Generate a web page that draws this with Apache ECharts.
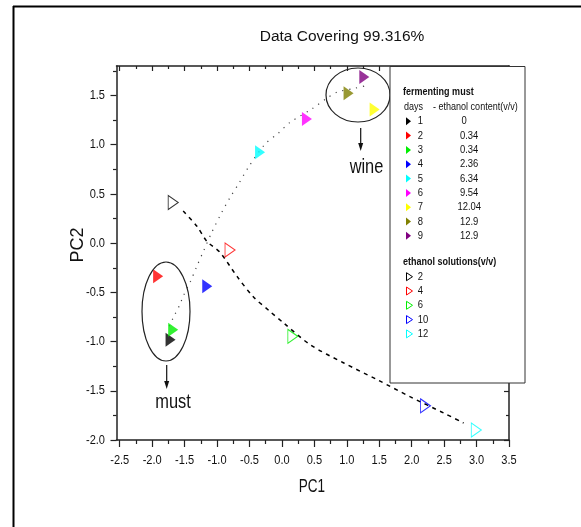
<!DOCTYPE html>
<html>
<head>
<meta charset="utf-8">
<script src="https://cdn.jsdelivr.net/npm/echarts@6/dist/echarts.min.js"></script>
<style>html,body{margin:0;padding:0;background:#fff}#c{width:581px;height:527px}</style>
</head>
<body>
<div id="c"></div>
<script>
// ---- data ----
const days = ['1','2','3','4','5','6','7','8','9'];
const ethanolContent = ['0','0.34','0.34','2.36','6.34','9.54','12.04','12.9','12.9'];
const mustColors = ['#000000','#ff0000','#00ee00','#0000ff','#00ffff','#ff00ff','#ffff00','#808000','#800080'];
const mustPC1 = [-1.717,-1.908,-1.676,-1.151,-0.337,0.385,1.429,1.027,1.270];
const mustPC2 = [-0.981,-0.335,-0.879,-0.437,0.923,1.262,1.357,1.524,1.687];

const solutionLabels = ['2','4','6','10','12'];
const solutionColors = ['#000000','#ff0000','#00ee00','#0000ff','#00ffff'];
const solPC1 = [-1.676,-0.800,0.168,2.213,2.996];
const solPC2 = [0.413,-0.070,-0.947,-1.653,-1.898];

// trend curves
const mustTrendPC1 = [-1.738,-1.676,-1.573,-1.522,-1.408,-1.315,-1.197,-1.083,-0.929,-0.800,-0.661,-0.518,-0.260,-0.054,0.127,0.462,0.694,0.848,1.131,1.301];
const mustTrendPC2 = [-0.845,-0.759,-0.624,-0.539,-0.386,-0.240,-0.063,0.107,0.311,0.464,0.610,0.770,1.007,1.119,1.228,1.364,1.473,1.534,1.575,1.601];
const solTrendPC1 = [-1.522,-1.310,-1.156,-0.955,-0.692,-0.445,-0.182,0.019,0.436,0.946,1.471,1.981,2.491,2.800];
const solTrendPC2 = [0.327,0.171,0.018,-0.094,-0.338,-0.542,-0.695,-0.807,-1.032,-1.215,-1.388,-1.562,-1.725,-1.827];

const xTickLabels = [-2.5,-2.0,-1.5,-1.0,-0.5,0.0,0.5,1.0,1.5,2.0,2.5,3.0,3.5];
const yTickLabels = [-2.0,-1.5,-1.0,-0.5,0.0,0.5,1.0,1.5];

const titleText = 'Data Covering 99.316%';
const xName = 'PC1', yName = 'PC2';

// ---- chart ----
const SANS = "'Liberation Sans',Arial,sans-serif";
const NX = 0.82; // horizontal compression of the narrow text in the reference
const xMinor = xTickLabels.slice(0,-1).map((v,i)=>(v+xTickLabels[i+1])/2);
const yMinor = yTickLabels.slice(0,-1).map((v,i)=>(v+yTickLabels[i+1])/2).concat([1.75]);
const XMIN=-2.55, XMAX=3.5, YMIN=-2.0, YMAX=1.8;
const AX='#222';

function xAx(pos, values, len, inside, line){
  return {type:'value', position:pos, min:XMIN, max:XMAX,
    axisLine:{show:line,onZero:false,lineStyle:{color:AX,width:1.5}},
    axisTick:{show:true,inside:inside,length:len,customValues:values,lineStyle:{color:AX,width:1.2}},
    axisLabel:{show:false}, splitLine:{show:false}};
}
function yAx(pos, values, len, inside, line){
  return {type:'value', position:pos, min:YMIN, max:YMAX,
    axisLine:{show:line,onZero:false,lineStyle:{color:AX,width:1.5}},
    axisTick:{show:true,inside:inside,length:len,customValues:values,lineStyle:{color:AX,width:1.2}},
    axisLabel:{show:false}, splitLine:{show:false}};
}

const tri = 'path://M0,0L10,7L0,14Z';

const option = {
  animation:false,
  backgroundColor:'#fff',
  grid:{left:116.5,right:72,top:66,bottom:87,containLabel:false},
  xAxis:[
    xAx('bottom',xTickLabels,7,false,true),
    xAx('bottom',xMinor,4,false,false),
    xAx('top',xTickLabels,5,true,true),
    xAx('top',xMinor,3,true,false)
  ],
  yAxis:[
    yAx('left',yTickLabels,6,false,true),
    yAx('left',yMinor,3.5,false,false),
    yAx('right',yTickLabels,5,true,true),
    yAx('right',yMinor,3,true,false)
  ],
  series:[
    {type:'line',name:'must trend',xAxisIndex:0,yAxisIndex:0,showSymbol:false,smooth:0.3,z:1,
     data:mustTrendPC1.map((x,i)=>[x,mustTrendPC2[i]]),
     lineStyle:{color:'#444',width:1.2,type:[1.2,5.8]}},
    {type:'line',name:'solution trend',xAxisIndex:0,yAxisIndex:0,showSymbol:false,smooth:0.3,z:1,
     data:solTrendPC1.map((x,i)=>[x,solTrendPC2[i]]),
     lineStyle:{color:'#000',width:1.5,type:[4,4.5]}},
    {type:'scatter',name:'fermenting must',xAxisIndex:0,yAxisIndex:0,symbol:tri,symbolSize:[10,14],z:3,
     data:mustPC1.map((x,i)=>({value:[x,mustPC2[i]],itemStyle:{color:mustColors[i]}}))},
    {type:'scatter',name:'ethanol solutions',xAxisIndex:0,yAxisIndex:0,symbol:tri,symbolSize:[10,14],z:3,
     data:solPC1.map((x,i)=>({value:[x,solPC2[i]],itemStyle:{color:'rgba(255,255,255,0)',borderColor:solutionColors[i],borderWidth:1}}))}
  ]
};
const chart = echarts.init(document.getElementById('c'),null,{renderer:'canvas'});
chart.setOption(option);

// ---- graphics: tick labels (placed through the axis scales), annotations, legend ----
const graphics = [];
function txt(x,y,text,font,align,sx,extra){
  return Object.assign({type:'text',x:x,y:y,scaleX:sx,style:{text:text,font:font,fill:'#111',align:align,verticalAlign:'middle'},z:50},extra||{});
}
xTickLabels.forEach(v=>{
  const px = chart.convertToPixel({xAxisIndex:0}, v);
  graphics.push(txt(px,460.5,v.toFixed(1),"13px "+SANS,'center',0.85));
});
yTickLabels.forEach(v=>{
  const py = chart.convertToPixel({yAxisIndex:0}, v);
  graphics.push(txt(105,py,v.toFixed(1),"13px "+SANS,'right',0.85));
});
// outer frame (left and top edges)
graphics.push({type:'line',shape:{x1:13.5,y1:6,x2:13.5,y2:527},style:{stroke:'#000',lineWidth:2},z:50});
graphics.push({type:'line',shape:{x1:13,y1:6.5,x2:581,y2:6.5},style:{stroke:'#000',lineWidth:2},z:50});
// title and axis names
graphics.push(txt(342,37,titleText,"15.5px "+SANS,'center',1));
graphics.push(txt(312,487,xName,"18px "+SANS,'center',0.75));
graphics.push(txt(78,245,yName,"18px "+SANS,'center',1,{rotation:Math.PI/2}));
// annotations: ellipses, arrows, labels
graphics.push({type:'ellipse',shape:{cx:358,cy:95,rx:32,ry:27},style:{fill:null,stroke:'#222',lineWidth:1.2},z:40});
graphics.push({type:'ellipse',shape:{cx:166,cy:311.5,rx:24,ry:49.5},style:{fill:null,stroke:'#222',lineWidth:1.2},z:40});
function arrow(x,y1,y2){
  graphics.push({type:'line',shape:{x1:x,y1:y1,x2:x,y2:y2-6},style:{stroke:'#111',lineWidth:1.2},z:40});
  graphics.push({type:'polygon',shape:{points:[[x-2.5,y2-8],[x+2.5,y2-8],[x,y2]]},style:{fill:'#111'},z:40});
}
arrow(360.7,128,151);
arrow(166.7,365,389);
graphics.push(txt(366.5,167,'wine',"20px "+SANS,'center',NX));
graphics.push(txt(173,402,'must',"20px "+SANS,'center',NX));

// legend box
const L = [];
L.push({type:'rect',shape:{x:390,y:66.5,width:135,height:316.5},style:{fill:'#fff',stroke:'#333',lineWidth:1}});
L.push(txt(403,92,'fermenting must',"bold 11px "+SANS,'left',NX));
L.push(txt(404,106.7,'days',"11px "+SANS,'left',NX));
L.push(txt(433,106.7,'- ethanol content(v/v)',"11px "+SANS,'left',NX));
days.forEach((d,i)=>{
  const y = 121.3 + i*14.32;
  L.push({type:'polygon',shape:{points:[[406,y-4],[411,y],[406,y+4]]},style:{fill:mustColors[i]}});
  L.push(txt(417.7,y,d,"11.5px "+SANS,'left',NX));
  const ec = ethanolContent[i];
  L.push(txt(ec.length>4?457.5:(ec.length===1?461.5:460),y,ec,"11.5px "+SANS,'left',NX));
});
L.push(txt(403,261.7,'ethanol solutions(v/v)',"bold 11px "+SANS,'left',NX));
solutionLabels.forEach((s,i)=>{
  const y = 276.7 + i*14.3;
  L.push({type:'polygon',shape:{points:[[406.5,y-4],[412.5,y],[406.5,y+4]]},style:{fill:null,stroke:solutionColors[i],lineWidth:1}});
  L.push(txt(417.7,y,s,"11.5px "+SANS,'left',NX));
});
graphics.push({type:'group',z:100,children:L.map(e=>Object.assign(e,{z:100}))});

chart.setOption({graphic:graphics});
</script>
</body>
</html>
